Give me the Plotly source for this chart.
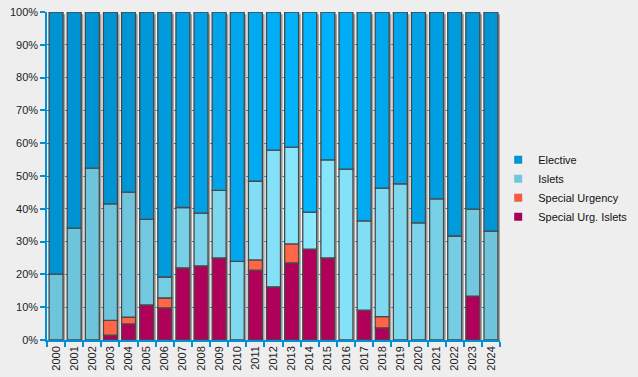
import plotly.graph_objects as go
import numpy as np

years = [str(y) for y in range(2000, 2025)]
special_urg_islets = [0, 0, 0, 1.5, 4.9, 10.7, 9.8, 22.0, 22.6, 25.0, 0, 21.3, 16.2, 23.5, 27.7, 25.0, 0, 9.1, 3.7, 0, 0, 0, 0, 13.4, 0]
special_urgency = [0, 0, 0, 4.5, 2.1, 0, 3.0, 0, 0, 0, 0, 3.1, 0, 5.8, 0, 0, 0, 0, 3.4, 0, 0, 0, 0, 0, 0]
islets = [20.1, 34.1, 52.4, 35.5, 38.1, 26.1, 6.4, 18.4, 16.1, 20.6, 24.0, 24.0, 41.7, 29.5, 11.3, 29.9, 52.1, 27.2, 39.2, 47.6, 35.7, 43.0, 31.7, 26.5, 33.2]
elective = [79.9, 65.9, 47.6, 58.5, 54.9, 63.2, 80.8, 59.6, 61.3, 54.4, 76.0, 51.6, 42.1, 41.2, 61.0, 45.1, 47.9, 63.7, 53.7, 52.4, 64.3, 57.0, 68.3, 60.1, 66.8]
tick_vals = [0, 10, 20, 30, 40, 50, 60, 70, 80, 90, 100]
tick_text = [f"{v}%" for v in tick_vals]


def hex2rgb(h):
    h = h.lstrip('#')
    return np.array([int(h[i:i + 2], 16) for i in (0, 2, 4)], dtype=float)


def mix(c0, c1, t):
    a, b = hex2rgb(c0), hex2rgb(c1)
    c = a + (b - a) * t
    return "rgb(%d,%d,%d)" % tuple(np.round(c))


n = len(years)
tvals = [max(0.0, 1 - abs(i - 14) / 10.5) for i in range(n)]
elective_colors = [mix("#0093D3", "#00B4FF", t) for t in tvals]
islets_colors = [mix("#6EC4DA", "#8AE8FF", t) for t in tvals]

series = [
    ("Special Urg. Islets", special_urg_islets, ["#B0005A"] * n, "#A8005A"),
    ("Special Urgency", special_urgency, ["#FF6648"] * n, "#F55A42"),
    ("Islets", islets, islets_colors, "#70C8DC"),
    ("Elective", elective, elective_colors, "#0096D6"),
]

W = 0.77
fig = go.Figure()

totals = np.sum([np.array(s[1]) for s in series], axis=0)
# shadow
fig.add_trace(go.Bar(
    x=years, y=totals, base=-0.7, width=W, offset=-W / 2 + 0.12,
    marker=dict(color="#A3A3A3", line=dict(width=0)),
    showlegend=False, hoverinfo="skip",
))

base = np.zeros(n)
for name, vals, cols, legcol in series:
    v = np.array(vals, dtype=float)
    fig.add_trace(go.Bar(
        x=years, y=v, base=base.copy(), width=W, name=name,
        marker=dict(color=cols, line=dict(color="#484848", width=1.3)),
        showlegend=False,
    ))
    base = base + v

for name, vals, cols, legcol in reversed(series):
    fig.add_trace(go.Scatter(
        x=[None], y=[None], mode="markers", name=name,
        marker=dict(symbol="square", size=8, color=legcol),
    ))

fig.update_layout(
    width=638, height=377,
    margin=dict(l=47, r=138, t=12, b=37, pad=0, autoexpand=False),
    paper_bgcolor="#EEEEEE", plot_bgcolor="#F3F3F3",
    barmode="overlay",
    font=dict(family="Liberation Sans, Arial, sans-serif", size=11, color="#222222"),
    showlegend=True,
    legend=dict(x=0.996, xanchor="left", y=0.463, yanchor="middle",
                bgcolor="rgba(0,0,0,0)", font=dict(size=11, color="#111111"),
                itemwidth=30, tracegroupgap=0),
    xaxis=dict(type="category", range=[-0.5, n - 0.5], showgrid=False, automargin=False,
               showline=True, linecolor="#0090D8", linewidth=1.5,
               ticks="outside", tickson="boundaries", ticklen=5, tickcolor="#0090D8",
               tickwidth=1.5, tickangle=-90, fixedrange=True),
    yaxis=dict(range=[0, 100], tickvals=tick_vals, ticktext=tick_text, automargin=False,
               showgrid=True, gridcolor="#0090D8", gridwidth=1, griddash="dash",
               showline=True, linecolor="#0090D8", linewidth=1.5,
               ticks="outside", ticklen=5, tickcolor="#0090D8", tickwidth=1.5,
               zeroline=False, fixedrange=True),
)

fig.write_html("out.html", config={"displayModeBar": False},
               post_script="document.body.style.margin='0px';document.body.style.background='#EEEEEE';")
